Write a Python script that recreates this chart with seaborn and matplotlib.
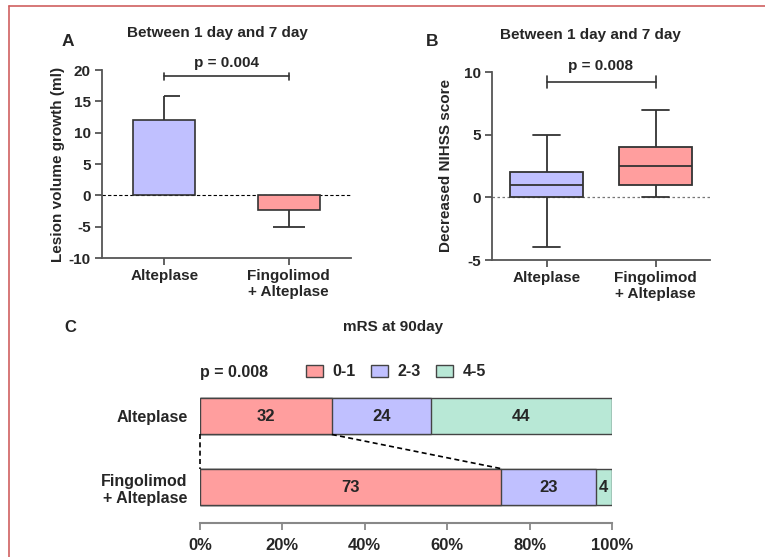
import matplotlib
matplotlib.use("Agg")
import matplotlib.pyplot as plt
import seaborn as sns
import pandas as pd
import numpy as np
from matplotlib.patches import Patch
from matplotlib.lines import Line2D

sns.set_theme(style="ticks")
plt.rcParams['font.family'] = ['Liberation Sans', 'DejaVu Sans']
plt.rcParams['font.weight'] = 'bold'
plt.rcParams['axes.unicode_minus'] = False

# ---------------- data ----------------
groups = ["Alteplase", "Fingolimod\n+ Alteplase"]
volume_mean = [12.1, -2.4]
volume_err = [3.7, 2.6]
p_a = "p = 0.004"

nihss_alteplase = [-4, 0, 1, 2, 5]      # min, Q1, median, Q3, max
nihss_fingolimod = [0, 1, 2.5, 4, 7]
p_b = "p = 0.008"

mrs_groups = ["Alteplase", "Fingolimod\n+ Alteplase"]
mrs_categories = ["0-1", "2-3", "4-5"]
mrs_0_1 = [32, 73]
mrs_2_3 = [24, 23]
mrs_4_5 = [44, 4]
p_c = "p = 0.008"

col_lav = "#C0C0FF"
col_sal = "#FF9E9E"
col_mint = "#B8E8D6"
spine_col = "#555555"

W, H = 765, 557
fig = plt.figure(figsize=(W / 100, H / 100), dpi=100)

def ax_px(l, r, t, b):
    return fig.add_axes([l / W, 1 - b / H, (r - l) / W, (b - t) / H])

def style_axes(ax):
    for s in ["top", "right"]:
        ax.spines[s].set_visible(False)
    for s in ["left", "bottom"]:
        ax.spines[s].set_color(spine_col)
        ax.spines[s].set_linewidth(1.3)
    ax.tick_params(axis="both", direction="out", length=5, width=1.3,
                   color=spine_col, labelsize=11, pad=3)
    for lab in ax.get_xticklabels() + ax.get_yticklabels():
        lab.set_fontweight("bold")

# ---------------- Panel A ----------------
axA = ax_px(102, 351, 70, 258)
dfA = pd.DataFrame({"group": groups, "value": volume_mean})
sns.barplot(data=dfA, x="group", y="value", hue="group", palette=[col_lav, col_sal],
            width=0.5, errorbar=None, edgecolor="#333333", linewidth=1.2,
            legend=False, ax=axA, saturation=1)
xs = np.arange(len(groups))
ends = [m + e if m >= 0 else m - e for m, e in zip(volume_mean, volume_err)]
axA.vlines(xs, volume_mean, ends, color="#333333", lw=1.3, zorder=1)
axA.hlines(ends[0], xs[0], xs[0] + 0.13, color="#333333", lw=1.3)
axA.hlines(ends[1], xs[1] - 0.13, xs[1] + 0.13, color="#333333", lw=1.3)
axA.axhline(0, color="black", lw=0.8, ls=(0, (3, 2)), zorder=0)
axA.set_xlim(-0.5, 1.5)
axA.set_ylim(-10, 20)
axA.set_yticks([-10, -5, 0, 5, 10, 15, 20])
axA.set_xlabel("")
axA.set_ylabel("Lesion volume growth (ml)", fontsize=11, fontweight="bold", labelpad=3)
style_axes(axA)
# bracket
axA.plot([0, 1], [19, 19], color="#333333", lw=1.2, clip_on=False)
axA.plot([0, 0], [18.45, 19.55], color="#333333", lw=1.2, clip_on=False)
axA.plot([1, 1], [18.45, 19.55], color="#333333", lw=1.2, clip_on=False)
axA.text(0.5, 20.0, p_a, ha="center", va="bottom", fontsize=11, fontweight="bold")
fig.text(217 / W, 1 - 33 / H, "Between 1 day and 7 day", ha="center", va="center",
         fontsize=11, fontweight="bold")
fig.text(68 / W, 1 - 41 / H, "A", ha="center", va="center", fontsize=12.5, fontweight="bold")

# ---------------- Panel B ----------------
axB = ax_px(492, 710, 72, 260)
dfB = pd.DataFrame({
    "group": [groups[0]] * len(nihss_alteplase) + [groups[1]] * len(nihss_fingolimod),
    "score": nihss_alteplase + nihss_fingolimod,
})
sns.boxplot(data=dfB, x="group", y="score", hue="group", palette=[col_lav, col_sal],
            width=0.665, whis=(0, 100), linecolor="#333333", linewidth=1.3,
            legend=False, ax=axB, saturation=1, capwidths=0.24)
axB.axhline(0, color="#777777", lw=0.9, ls=(0, (2, 2)), zorder=0)
axB.set_xlim(-0.5, 1.5)
axB.set_ylim(-5, 10)
axB.set_yticks([-5, 0, 5, 10])
axB.set_xlabel("")
axB.set_ylabel("Decreased NIHSS score", fontsize=11, fontweight="bold", labelpad=8)
style_axes(axB)
axB.plot([0, 1], [9.2, 9.2], color="#333333", lw=1.2, clip_on=False)
axB.plot([0, 0], [8.75, 9.65], color="#333333", lw=1.2, clip_on=False)
axB.plot([1, 1], [8.75, 9.65], color="#333333", lw=1.2, clip_on=False)
axB.text(0.5, 9.9, p_b, ha="center", va="bottom", fontsize=11, fontweight="bold")
fig.text(590 / W, 1 - 35 / H, "Between 1 day and 7 day", ha="center", va="center",
         fontsize=11, fontweight="bold")
fig.text(432 / W, 1 - 41 / H, "B", ha="center", va="center", fontsize=12.5, fontweight="bold")

# ---------------- Panel C ----------------
fc = ['Liberation Sans', 'DejaVu Sans']
axC = ax_px(200, 612, 385, 523)
cum1 = np.array(mrs_0_1)
cum2 = cum1 + np.array(mrs_2_3)
cum3 = cum2 + np.array(mrs_4_5)
for cum, col in [(cum3, col_mint), (cum2, col_lav), (cum1, col_sal)]:
    dfc = pd.DataFrame({"group": mrs_groups, "value": cum})
    sns.barplot(data=dfc, y="group", x="value", color=col, orient="y", width=0.52,
                errorbar=None, edgecolor="#444444", linewidth=1.0, ax=axC, saturation=1)
# value labels
for i in range(len(mrs_groups)):
    starts = [0, cum1[i], cum2[i]]
    vals = [mrs_0_1[i], mrs_2_3[i], mrs_4_5[i]]
    for s, v in zip(starts, vals):
        axC.text(s + v / 2, i, str(v), ha="center", va="center", fontsize=12,
                 fontweight="bold", family=fc)
# connecting dashed lines
axC.plot([0, 0], [0.26, 0.74], color="black", lw=1.2, ls=(0, (3, 2)), clip_on=False)
axC.plot([cum1[0], cum1[1]], [0.26, 0.74], color="black", lw=1.2, ls=(0, (3, 2)))
axC.set_xlim(0, 100)
axC.set_ylim(1.507, -0.437)
axC.set_xticks([0, 20, 40, 60, 80, 100])
axC.set_xticklabels([f"{t}%" for t in [0, 20, 40, 60, 80, 100]])
axC.set_xlabel("")
axC.set_ylabel("")
for s in ["top", "right", "left"]:
    axC.spines[s].set_visible(False)
axC.spines["bottom"].set_color("#888888")
axC.spines["bottom"].set_linewidth(1.5)
axC.tick_params(axis="x", direction="out", length=5, width=1.3, color="#888888", pad=6)
axC.tick_params(axis="y", length=0, pad=9)
for lab in axC.get_xticklabels():
    lab.set_fontweight("bold"); lab.set_fontsize(12); lab.set_family(fc)
for lab in axC.get_yticklabels():
    lab.set_fontweight("bold"); lab.set_fontsize(11.5); lab.set_family(fc)
    lab.set_multialignment("right")

handles = [Patch(facecolor=c, edgecolor="#444444", lw=1.0)
           for c in [col_sal, col_lav, col_mint]]
leg = fig.legend(handles, mrs_categories, ncol=3, frameon=False,
                 loc="center left", bbox_to_anchor=(306 / W, 1 - 372 / H),
                 borderaxespad=0, borderpad=0,
                 handlelength=1.06, handleheight=0.7, handletextpad=0.6,
                 columnspacing=0.95, prop={"family": fc, "weight": "bold", "size": 11.5})
fig.text(200 / W, 1 - 372 / H, p_c, ha="left", va="center", fontsize=11.5,
         fontweight="bold", family=fc)
fig.text(393 / W, 1 - 327 / H, "mRS at 90day", ha="center", va="center", fontsize=11,
         fontweight="bold", family=fc)
fig.text(70 / W, 1 - 327 / H, "C", ha="center", va="center", fontsize=12,
         fontweight="bold", family=fc)

# border lines (top and left)
border = "#D06060"
fig.add_artist(Line2D([9 / W, 1], [1 - 6 / H, 1 - 6 / H], color=border, lw=1.2))
fig.add_artist(Line2D([9 / W, 9 / W], [0, 1 - 6 / H], color=border, lw=1.2))

fig.savefig("out.png", dpi=100)
